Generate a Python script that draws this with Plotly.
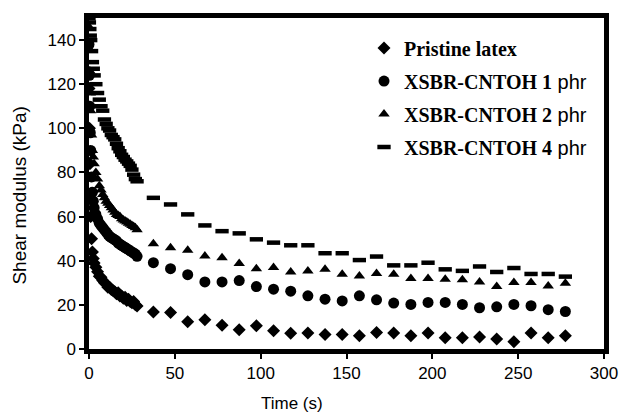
import plotly.graph_objects as go

# ---- data ----
t_dense = [0, 0.25, 0.5, 0.75, 1, 1.5, 2, 2.5, 3, 4, 5, 6, 7, 8, 9, 10, 11, 12, 13, 14,
           15, 16, 17, 18, 19, 20, 21, 22, 23, 24, 25, 26, 27, 28]
t_sparse = [37.5, 47.5, 57.5, 67.5, 77.5, 87.5, 97.5, 107.5, 117.5, 127.5, 137.5, 147.5,
            157.5, 167.5, 177.5, 187.5, 197.5, 207.5, 217.5, 227.5, 237.5, 247.5, 257.5,
            267.5, 277.5]

pristine_dense = [118, 100, 84, 70, 60, 50, 44, 41, 39, 37, 35, 33, 32.5, 31, 30, 29.5, 28, 28,
                  27, 26.5, 26, 25, 25.5, 24, 24, 23, 23.5, 22, 22.5, 21.5, 21, 21.5, 20, 19.5]
pristine_sparse = [16.8, 16.5, 12.3, 13.2, 10.8, 8.7, 10.5, 8.3, 7.1, 7.2, 6.6, 6.6, 6.0, 7.5,
                   7.2, 6.0, 7.2, 5.1, 5.1, 5.4, 4.5, 3.3, 7.2, 5.1, 6.0]

phr1_dense = [138, 124, 110, 98, 90, 78, 71, 67, 64, 61, 59, 57, 56, 55, 54, 53, 52, 51, 50.5,
              50, 49.5, 49, 48, 47.5, 47, 46.5, 46, 45.5, 45, 44.5, 44, 43.5, 43, 42]
phr1_sparse = [39.1, 36.4, 33.7, 30.4, 30.4, 31.0, 28.3, 27.1, 26.2, 24.1, 22.6, 21.8, 24.1,
               22.3, 20.8, 20.2, 21.1, 21.1, 20.2, 18.7, 19.1, 20.2, 19.6, 17.8, 17.0]

phr2_dense = [146, 136, 126, 116, 108, 97, 90, 87, 84, 80, 77, 74, 72, 70, 68.5, 67, 66, 65,
              64, 63, 62, 61, 60.5, 60, 59, 58.5, 58, 57.5, 57, 56.5, 56, 55.5, 55, 54]
phr2_sparse = [47.7, 45.9, 44.8, 42.1, 41.4, 38.8, 36.4, 36.9, 34.9, 35.4, 36.1, 33.9, 33.1,
               34.2, 33.9, 31.9, 31.9, 31.6, 31.4, 30.4, 28.3, 30.1, 30.1, 28.6, 29.8]

phr4_dense = [150, 148, 145, 142, 140, 135, 130, 127, 124, 120, 116, 113, 110, 108, 104, 102,
              100, 99, 97, 96, 95, 93, 91, 89.6, 88, 87, 85.8, 85, 84, 83, 81.3, 79, 77, 76]
phr4_sparse = [68.5, 65.5, 61.0, 56.0, 53.4, 52.4, 49.7, 48.2, 47.0, 47.0, 43.4, 43.4, 40.3,
               41.9, 37.9, 37.9, 39.1, 36.1, 35.4, 37.4, 34.9, 36.7, 34.0, 34.0, 32.8]

x_ticks = [0, 50, 100, 150, 200, 250, 300]
y_ticks = [0, 20, 40, 60, 80, 100, 120, 140]

SERIF = "Liberation Serif, Times New Roman, serif"
SANS = "Liberation Sans, Arial, sans-serif"

def lab(main, unit=None):
    s = "<b>" + main + "</b>"
    if unit:
        s += "<span style='font-family:Liberation Sans, Arial;font-size:20px'> " + unit + "</span>"
    return s

series = [
    (lab("Pristine latex"), pristine_dense + pristine_sparse,
     dict(symbol="diamond", size=10, color="black")),
    (lab("XSBR-CNTOH 1", "phr"), phr1_dense + phr1_sparse,
     dict(symbol="circle", size=11, color="black")),
    (lab("XSBR-CNTOH 2", "phr"), phr2_dense + phr2_sparse,
     dict(symbol="triangle-up", size=10, color="black")),
    (lab("XSBR-CNTOH 4", "phr"), phr4_dense + phr4_sparse,
     dict(symbol="line-ew", size=9.5, color="black", line=dict(width=4.5, color="black"))),
]

t_all = t_dense + t_sparse
fig = go.Figure()
for i, (name, ys, mk) in enumerate(series):
    fig.add_trace(go.Scatter(x=t_all, y=ys, mode="markers", name=name, marker=mk,
                             legendgroup="g%d" % i))

fig.update_layout(
    width=630, height=415,
    margin=dict(l=89, r=14.5, t=18, b=66),
    paper_bgcolor="white", plot_bgcolor="white",
    showlegend=True,
    legend=dict(x=0.534, y=0.968, xanchor="left", yanchor="top",
                font=dict(family=SERIF, size=20, color="black"),
                bgcolor="rgba(0,0,0,0)", tracegroupgap=4, itemwidth=30),
    font=dict(family=SANS, color="black"),
)
fig.update_xaxes(range=[0, 300], tickvals=x_ticks, showgrid=False, zeroline=False,
                 showline=True, linewidth=4.5, linecolor="black", mirror=True,
                 ticks="outside", ticklen=5, tickwidth=1.5, tickcolor="black",
                 tickfont=dict(family=SANS, size=17, color="black"))
fig.update_yaxes(range=[0, 150], tickvals=y_ticks, showgrid=False, zeroline=False,
                 showline=True, linewidth=4.5, linecolor="black", mirror=True,
                 ticks="outside", ticklen=5, tickwidth=1.5, tickcolor="black",
                 tickfont=dict(family=SANS, size=17, color="black"))
fig.add_annotation(text="Shear modulus (kPa)", xref="paper", yref="paper", x=-0.135, y=0.465,
                   xanchor="center", yanchor="middle", showarrow=False, textangle=-90,
                   font=dict(family=SANS, size=19, color="black"))
fig.add_annotation(text="Time (s)", xref="paper", yref="paper", x=0.395, y=-0.166,
                   xanchor="center", yanchor="middle", showarrow=False,
                   font=dict(family=SANS, size=17, color="black"))

fig.write_html("out.html")
